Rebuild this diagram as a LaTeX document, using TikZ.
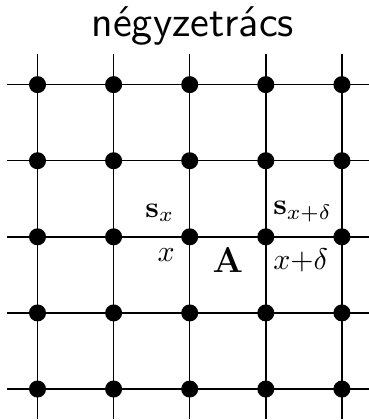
\documentclass[tikz,border=0pt]{standalone}
\begin{document}
\begin{tikzpicture}[x=0.895cm,y=0.895cm,
  point/.style={circle,fill=black,inner sep=0pt,minimum size=5.7pt},
  ligne/.style={line width=0.5pt}]

% Cadre
\useasboundingbox (-0.493,-0.407) rectangle (4.343,5.112);

% Titre
\node[font=\Large\sffamily,anchor=base] (titre) at (2.04,4.63) {négyzetrács};

% Grille
\foreach \i in {0,...,4} {
  \draw[ligne] (\i,-0.4) -- (\i,4.4);
  \draw[ligne] (-0.4,\i) -- (4.4,\i);
}

% Points
\foreach \i in {0,...,4} {
  \foreach \j in {0,...,4} {
    \node[point] (p\i\j) at (\i,\j) {};
  }
}

% Annotations
\node[anchor=south east] (sx) at ([xshift=-1.7pt,yshift=1.5pt]p22.center) {$\mathbf{s}_x$};
\node[anchor=north east] (x) at ([xshift=-1.5pt,yshift=-0.5pt]p22.center) {$x$};
\node[anchor=south west] (sxd) at ([xshift=-1pt,yshift=1.5pt]p32.center) {$\mathbf{s}_{x+\delta}$};
\node[anchor=north west] (xd) at ([xshift=-1pt,yshift=-0.5pt]p32.center) {$x{+}\delta$};
\node[font=\fontsize{13}{15}\selectfont] (A) at (2.5,1.695) {$\mathbf{A}$};

\end{tikzpicture}
\end{document}
